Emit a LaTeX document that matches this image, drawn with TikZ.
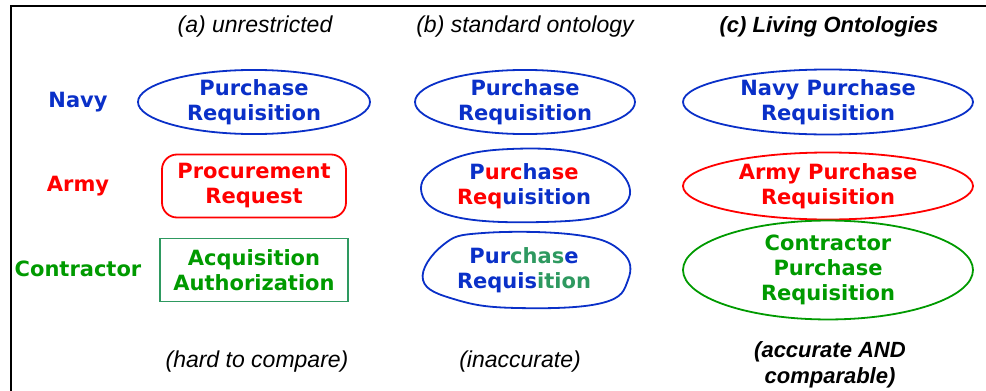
\documentclass[tikz,border=0pt]{standalone}
\usepackage{fontspec}
\usepackage{xcolor}
\usepackage{tikz}
\usetikzlibrary{shapes.geometric}
\newfontfamily\verd{DejaVu Sans}
\newfontfamily\helv{Liberation Sans}
\definecolor{navyblue}{HTML}{0A30C8}
\definecolor{armyred}{HTML}{FF0000}
\definecolor{contrgreen}{HTML}{009A00}
\definecolor{tealgreen}{HTML}{2E9960}
\tikzset{
  label/.style={font=\verd\bfseries\fontsize{21}{25}\selectfont, align=center, inner sep=0pt},
  caption/.style={font=\helv\itshape\fontsize{23}{27}\selectfont, align=center, inner sep=0pt},
  oval/.style={ellipse, draw, line width=1.8pt, minimum width=#1, inner sep=0pt},
  blob/.style={draw=navyblue, line width=1.8pt}
}

\begin{document}
\begin{tikzpicture}[x=1pt, y=-1pt]
  \useasboundingbox (0,0) rectangle (986,391);
  \draw[line width=2.5pt] (986,6) -- (11,6) -- (11,391);

  % column headings
  \node[caption] (capA) at (255,27) {(a) unrestricted};
  \node[caption] (capB) at (525,27) {(b) standard ontology};
  \node[caption, font=\helv\bfseries\itshape\fontsize{22}{27}\selectfont] (capC) at (829,27) {(c) Living Ontologies};

  % row labels
  \node[label, navyblue] (navy) at (78,102) {Navy};
  \node[label, armyred] (army) at (78,186) {Army};
  \node[label, contrgreen] (contractor) at (78,269) {Contractor};

  % (a) unrestricted
  \node[label, oval=232pt, minimum height=64pt, draw=navyblue, text=navyblue] (navyA) at (254,102) {Purchase\\Requisition};
  \node[label, draw=armyred, text=armyred, line width=1.8pt, rounded corners=15pt, minimum width=184pt, minimum height=63pt] (armyA) at (254,186) {Procurement\\Request};
  \node[label, draw=tealgreen, text=contrgreen, line width=1.5pt, minimum width=188pt, minimum height=63pt] (contrA) at (254,270) {Acquisition\\Authorization};

  % (b) standard ontology
  \node[label, oval=220pt, minimum height=64pt, draw=navyblue, text=navyblue] (navyB) at (525,102) {Purchase\\Requisition};
  \node[label] (armyB) at (524,186) {\textcolor{navyblue}{P}\textcolor{armyred}{urc}\textcolor{navyblue}{ha}\textcolor{armyred}{se}\\\textcolor{armyred}{Req}\textcolor{navyblue}{uisition}};
  \draw[blob] plot[smooth cycle, tension=0.7] coordinates {
    (421,189) (448,161) (510,149) (587,155) (628,183) (613,212) (543,222) (452,216)};
  \node[label] (contrB) at (524,270) {\textcolor{navyblue}{Pur}\textcolor{tealgreen}{chas}\textcolor{navyblue}{e}\\\textcolor{navyblue}{Requis}\textcolor{tealgreen}{ition}};
  \draw[blob] plot[smooth cycle, tension=0.7] coordinates {
    (423,280) (443,245) (483,233) (577,235) (622,252) (628,280) (602,303) (517,308) (457,300)};

  % (c) Living Ontologies
  \node[label, oval=290pt, minimum height=65pt, draw=navyblue, text=navyblue] (navyC) at (828,102) {Navy Purchase\\Requisition};
  \node[label, oval=290pt, minimum height=67pt, draw=armyred, text=armyred] (armyC) at (828,186) {Army Purchase\\Requisition};
  \node[label, oval=290pt, minimum height=90pt, draw=contrgreen, text=contrgreen] (contrC) at (828,270) {Contractor\\Purchase\\Requisition};

  % verdicts
  \node[caption] (verdA) at (257,362) {(hard to compare)};
  \node[caption] (verdB) at (520,362) {(inaccurate)};
  \node[caption, font=\helv\bfseries\itshape\fontsize{22}{26}\selectfont] (verdC) at (830,365) {(accurate AND\\comparable)};
\end{tikzpicture}
\end{document}
